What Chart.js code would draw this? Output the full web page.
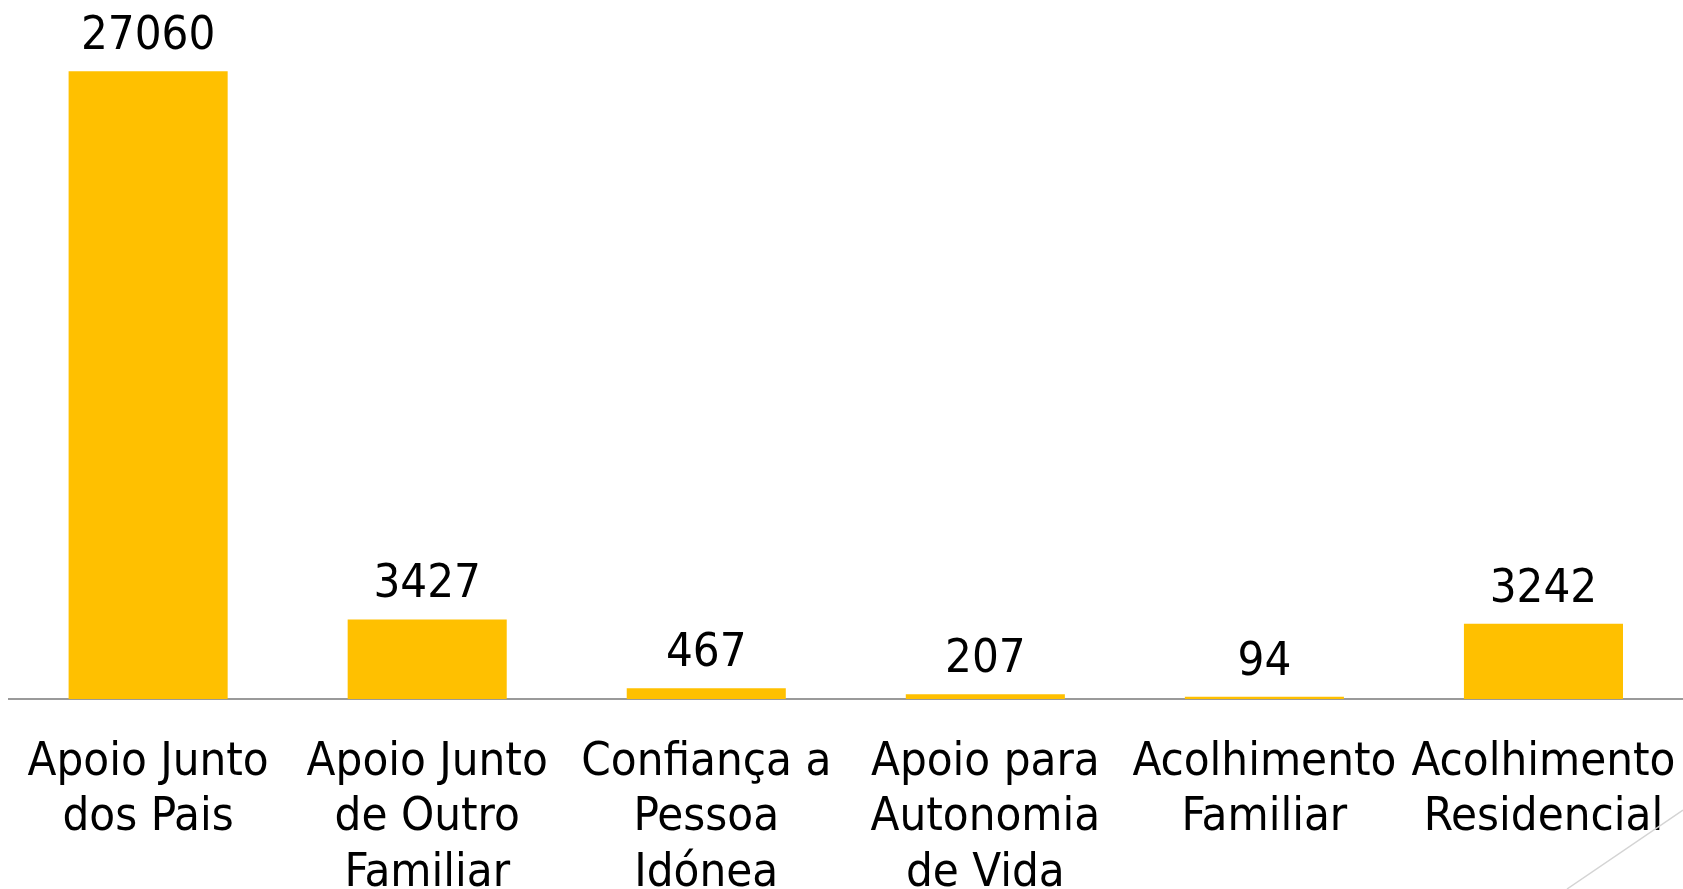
<!DOCTYPE html>
<html>
<head>
<meta charset="utf-8">
<script src="https://cdn.jsdelivr.net/npm/chart.js@4"></script>
<style>
  html, body { margin: 0; padding: 0; background: #fff; overflow: hidden; }
  #box { width: 1683px; height: 889px; position: relative; }
  canvas { display: block; }
</style>
</head>
<body>
<div id="box"><canvas id="grafico"></canvas></div>
<script>
let categorias = [
    ["Apoio Junto", "dos Pais"],
    ["Apoio Junto", "de Outro", "Familiar"],
    ["Confiança a", "Pessoa", "Idónea"],
    ["Apoio para", "Autonomia", "de Vida"],
    ["Acolhimento", "Familiar"],
    ["Acolhimento", "Residencial"]
];
let valores = [27060, 3427, 467, 207, 94, 3242];

let fonte = '"DejaVu Sans Condensed", "DejaVu Sans", sans-serif';

// numeros por cima das barras
let rotulos = {
    id: 'rotulos',
    afterDatasetsDraw(chart) {
        let ctx = chart.ctx;
        let meta = chart.getDatasetMeta(0);
        ctx.save();
        ctx.font = '47px ' + fonte;
        ctx.fillStyle = '#000';
        ctx.textAlign = 'center';
        ctx.textBaseline = 'alphabetic';
        meta.data.forEach((bar, i) => {
            ctx.fillText(String(valores[i]), bar.x, bar.y - 22);
        });
        ctx.restore();
    }
};

// linha diagonal do tema no canto
let enfeite = {
    id: 'enfeite',
    afterDraw(chart) {
        let ctx = chart.ctx;
        ctx.save();
        ctx.strokeStyle = '#d4d4d4';
        ctx.lineWidth = 1.5;
        ctx.beginPath();
        ctx.moveTo(1567, 889);
        ctx.lineTo(1683, 810);
        ctx.stroke();
        ctx.restore();
    }
};

let ctx = document.getElementById('grafico').getContext('2d');
let grafico = new Chart(ctx, {
    type: 'bar',
    data: {
        labels: categorias,
        datasets: [{
            data: valores,
            backgroundColor: '#FFC000',
            barPercentage: 0.57,
            categoryPercentage: 1
        }]
    },
    options: {
        responsive: true,
        maintainAspectRatio: false,
        animation: false,
        layout: { padding: { left: 8.6, top: 3, right: 0, bottom: 0 } },
        plugins: {
            legend: { display: false },
            tooltip: { enabled: false }
        },
        scales: {
            x: {
                grid: { display: false, drawTicks: false },
                border: { display: true, color: '#9A9A9A', width: 2 },
                ticks: {
                    color: '#000',
                    padding: 36,
                    maxRotation: 0,
                    autoSkip: false,
                    font: { family: fonte, size: 47, lineHeight: 1.18 }
                },
                afterFit(scale) {
                    scale.height = 190;
                    scale.paddingLeft = 0;
                    scale.paddingRight = 0;
                }
            },
            y: {
                display: false,
                min: 0,
                max: 30000
            }
        }
    },
    plugins: [rotulos, enfeite]
});
</script>
</body>
</html>
